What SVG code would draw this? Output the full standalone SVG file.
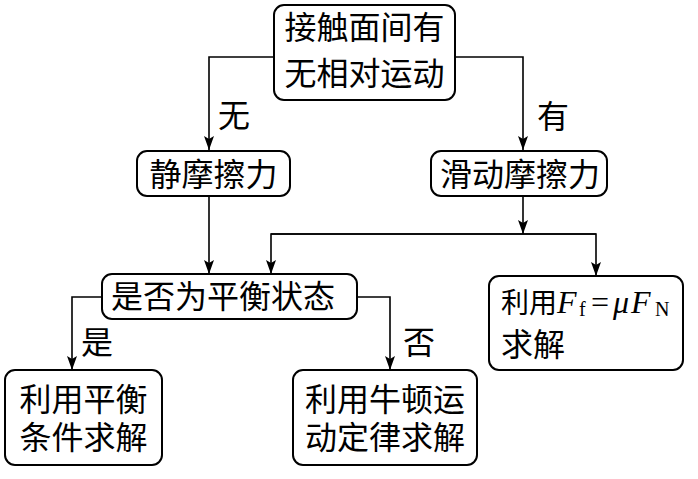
<svg xmlns="http://www.w3.org/2000/svg" width="698" height="479" viewBox="0 0 698 479">
<style>
.box{fill:#fff;stroke:#000;stroke-width:2}
.t{font-family:"Liberation Serif","Noto Sans CJK SC",serif;font-size:32px;fill:#000}
.c{text-anchor:middle}
.ln{fill:none;stroke:#000;stroke-width:1.6}
.it{font-style:italic}
.sub{font-size:20px}
</style>
<defs>
<marker id="a" markerUnits="userSpaceOnUse" markerWidth="14" markerHeight="10" viewBox="0 0 14 10" refX="14" refY="5" orient="auto">
<path d="M0,0 L14,5 L0,10 L3,5 Z" fill="#000"/>
</marker>
</defs>
<rect width="698" height="479" fill="#fff"/>
<g id="connectors">
<polyline class="ln" points="274,57 209,57 209,150" marker-end="url(#a)"/>
<polyline class="ln" points="455,57 523,57 523,150" marker-end="url(#a)"/>
<polyline class="ln" points="209,196 209,274" marker-end="url(#a)"/>
<polyline class="ln" points="523,196 523,234" marker-end="url(#a)"/>
<polyline class="ln" points="271,234 596,234 596,276" marker-end="url(#a)"/>
<polyline class="ln" points="596,234 271,234 271,274" marker-end="url(#a)"/>
<polyline class="ln" points="102,297 72,297 72,370" marker-end="url(#a)"/>
<polyline class="ln" points="357,297 390,297 390,370" marker-end="url(#a)"/>
<text class="t" x="218" y="127">无</text>
<text class="t" x="537" y="128">有</text>
<text class="t" x="81" y="354">是</text>
<text class="t" x="403" y="354">否</text>
</g>
<g id="n-top">
<rect class="box" x="274" y="5" width="181" height="95" rx="10"/>
<text class="t c" x="364.5" y="39">接触面间有</text>
<text class="t c" x="364.5" y="85">无相对运动</text>
</g>
<g id="n-static">
<rect class="box" x="137" y="151" width="153" height="45" rx="10"/>
<text class="t c" x="213.5" y="186">静摩擦力</text>
</g>
<g id="n-sliding">
<rect class="box" x="431" y="151" width="176" height="45" rx="10"/>
<text class="t c" x="520" y="186">滑动摩擦力</text>
</g>
<g id="n-balance">
<rect class="box" x="102" y="274" width="255" height="45" rx="10"/>
<text class="t" x="111" y="308">是否为平衡状态</text>
</g>
<g id="n-formula">
<rect class="box" x="489" y="276" width="194" height="94" rx="10"/>
<text class="t" x="501" y="313" style="font-size:28px">利用</text>
<text class="t" y="313"><tspan class="it" x="557">F</tspan><tspan class="sub" x="579" y="316">f</tspan><tspan x="591" y="313">=</tspan><tspan class="it" x="613">μ</tspan><tspan class="it" x="631">F</tspan><tspan class="sub" x="655" y="316">N</tspan></text>
<text class="t" x="501" y="356">求解</text>
</g>
<g id="n-eq">
<rect class="box" x="5" y="370" width="157" height="95" rx="10"/>
<text class="t c" x="83.5" y="411">利用平衡</text>
<text class="t c" x="83.5" y="449">条件求解</text>
</g>
<g id="n-newton">
<rect class="box" x="293" y="370" width="184" height="95" rx="10"/>
<text class="t c" x="385" y="411">利用牛顿运</text>
<text class="t c" x="385" y="449">动定律求解</text>
</g>
</svg>
